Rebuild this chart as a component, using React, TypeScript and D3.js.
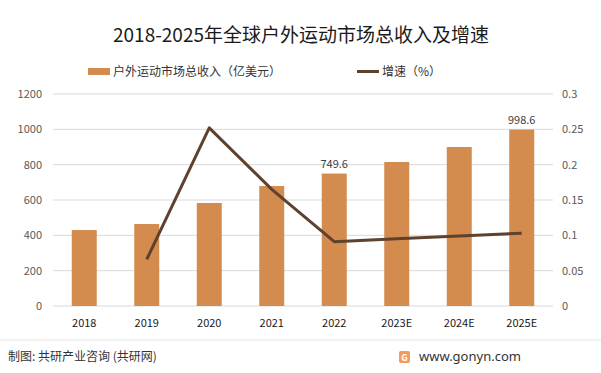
import React, { useEffect, useRef } from 'react';
import * as d3 from 'd3';

const years = ['2018', '2019', '2020', '2021', '2022', '2023E', '2024E', '2025E'];
const revenue = [430, 464, 583, 679, 749.6, 815, 900, 998.6];
const growth = [null, 0.066, 0.252, 0.165, 0.091, 0.095, 0.099, 0.103];
const leftTicks = [0, 200, 400, 600, 800, 1000, 1200];
const rightTicks = [0, 0.05, 0.1, 0.15, 0.2, 0.25, 0.3];
const labelled = ['2022', '2025E'];

const FONT = '"Noto Sans CJK SC", "Noto Sans", sans-serif';

const App = () => {
  const svgRef = useRef(null);

  useEffect(() => {
    const width = 601;
    const height = 373;
    const svg = d3.select(svgRef.current);
    svg.selectAll('*').remove();

    const x = d3.scaleBand().domain(years).range([53, 553]).paddingInner(0.6).paddingOuter(0.3);
    const y = d3.scaleLinear().domain([0, 1200]).range([306, 94]);
    const y2 = d3.scaleLinear().domain([0, 0.3]).range([306, 94]);

    svg.append('rect').attr('width', width).attr('height', height).attr('fill', '#fff');

    // title
    svg.append('text')
      .attr('x', 301).attr('y', 42)
      .attr('text-anchor', 'middle')
      .style('font-size', '19px')
      .style('font-family', FONT)
      .attr('fill', '#1a1a1a')
      .text('2018-2025年全球户外运动市场总收入及增速');

    // legend
    svg.append('rect').attr('x', 88).attr('y', 68).attr('width', 22).attr('height', 7).attr('fill', '#D38B4E');
    svg.append('text').attr('x', 113).attr('y', 76).style('font-size', '12px').style('font-family', FONT)
      .attr('fill', '#333').text('户外运动市场总收入（亿美元）');
    svg.append('line').attr('x1', 357).attr('x2', 379).attr('y1', 71.5).attr('y2', 71.5)
      .attr('stroke', '#5E412E').attr('stroke-width', 3);
    svg.append('text').attr('x', 382).attr('y', 76).style('font-size', '12px').style('font-family', FONT)
      .attr('fill', '#333').text('增速（%）');

    // grid
    svg.append('g').selectAll('line').data(leftTicks).enter().append('line')
      .attr('x1', 53).attr('x2', 553)
      .attr('y1', (d) => y(d)).attr('y2', (d) => y(d))
      .attr('stroke', '#d9d9d9').attr('stroke-width', 1);

    // left axis labels
    svg.append('g').selectAll('text').data(leftTicks).enter().append('text')
      .attr('x', 42).attr('y', (d) => y(d) + 4)
      .attr('text-anchor', 'end')
      .style('font-size', '11px').style('font-family', FONT)
      .attr('fill', '#595959')
      .text((d) => d);

    // right axis labels
    svg.append('g').selectAll('text').data(rightTicks).enter().append('text')
      .attr('x', 562).attr('y', (d) => y2(d) + 4)
      .style('font-size', '11px').style('font-family', FONT)
      .attr('fill', '#595959')
      .text((d) => d);

    // bars
    svg.append('g').selectAll('rect').data(revenue).enter().append('rect')
      .attr('x', (d, i) => x(years[i]))
      .attr('y', (d) => y(d))
      .attr('width', x.bandwidth())
      .attr('height', (d) => y(0) - y(d))
      .attr('fill', '#D38B4E');

    // data labels
    svg.append('g').selectAll('text').data(years.filter((c) => labelled.includes(c))).enter().append('text')
      .attr('x', (c) => x(c) + x.bandwidth() / 2)
      .attr('y', (c) => y(revenue[years.indexOf(c)]) - 6)
      .attr('text-anchor', 'middle')
      .style('font-size', '11px').style('font-family', FONT)
      .attr('fill', '#404040')
      .text((c) => revenue[years.indexOf(c)]);

    // x labels
    svg.append('g').selectAll('text').data(years).enter().append('text')
      .attr('x', (c) => x(c) + x.bandwidth() / 2)
      .attr('y', 327)
      .attr('text-anchor', 'middle')
      .style('font-size', '11px').style('font-family', FONT)
      .attr('fill', '#1a1a1a')
      .text((c) => c);

    // growth line
    const pts = years.map((c, i) => ({ c, v: growth[i] })).filter((p) => p.v !== null);
    const line = d3.line()
      .x((p) => x(p.c) + x.bandwidth() / 2)
      .y((p) => y2(p.v));
    svg.append('path').datum(pts).attr('d', line)
      .attr('fill', 'none').attr('stroke', '#5E412E').attr('stroke-width', 3)
      .attr('stroke-linejoin', 'round');

    // footer
    svg.append('line').attr('x1', 0).attr('x2', width).attr('y1', 340).attr('y2', 340)
      .attr('stroke', '#e6e6e6');
    svg.append('text').attr('x', 8).attr('y', 361)
      .style('font-size', '12px').style('font-family', FONT).attr('fill', '#333')
      .text('制图: 共研产业咨询 (共研网)');
    svg.append('rect').attr('x', 399).attr('y', 351).attr('width', 11).attr('height', 12).attr('rx', 2)
      .attr('fill', '#F29B5C');
    svg.append('text').attr('x', 404.5).attr('y', 361).attr('text-anchor', 'middle')
      .style('font-size', '9px').style('font-weight', 'bold').style('font-family', FONT).attr('fill', '#fff')
      .text('G');
    svg.append('text').attr('x', 419).attr('y', 361)
      .style('font-size', '13px').style('font-family', '"Noto Sans", sans-serif').attr('fill', '#333')
      .text('www.gonyn.com');
  }, []);

  return (
    <svg ref={svgRef} width={601} height={373} style={{ position: 'absolute', left: 0, top: 0 }}></svg>
  );
};

export default App;
